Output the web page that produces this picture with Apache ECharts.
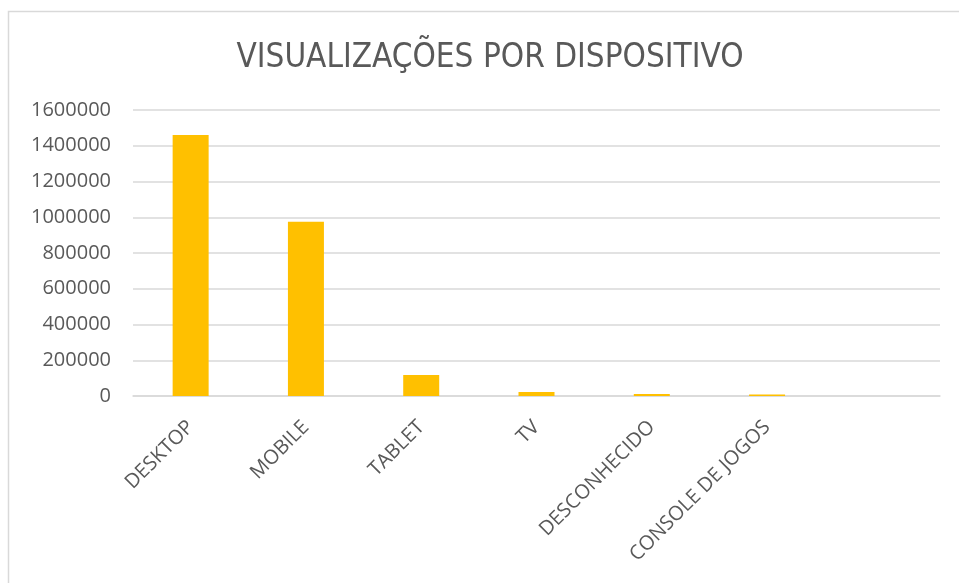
<!DOCTYPE html>
<html>
<head>
<meta charset="utf-8">
<script src="https://cdn.jsdelivr.net/npm/echarts@6/dist/echarts.min.js"></script>
<style>
  html, body { margin: 0; padding: 0; background: #fff; }
  #chart { width: 959px; height: 583px; }
</style>
</head>
<body>
<div id="chart"></div>
<script>
// categorias (a última fica vazia, como no gráfico original)
const categories = ['DESKTOP', 'MOBILE', 'TABLET', 'TV', 'DESCONHECIDO', 'CONSOLE DE JOGOS', '']
// visualizações por dispositivo
const views = [1460000, 975000, 117000, 23000, 11000, 8000, null]
const yTicks = [0, 200000, 400000, 600000, 800000, 1000000, 1200000, 1400000, 1600000]

const textColor = '#595959'
const font = '"Open Sans", "Liberation Sans", sans-serif'

const chart = echarts.init(document.getElementById('chart'))
const option = {
  backgroundColor: '#fff',
  animation: false,
  graphic: [{
    type: 'rect',
    shape: { x: 8.5, y: 11.5, width: 1000, height: 700 },
    style: { fill: 'none', stroke: '#d9d9d9', lineWidth: 1.5 },
    silent: true
  }],
  title: {
    text: 'VISUALIZAÇÕES POR DISPOSITIVO',
    left: 485,
    top: 37,
    textAlign: 'center',
    textStyle: {
      color: textColor,
      fontFamily: '"Liberation Sans Narrow", "DejaVu Sans Condensed", sans-serif',
      fontSize: 33,
      fontWeight: 'normal'
    }
  },
  grid: {
    left: 133,
    right: 19,
    top: 110,
    bottom: 187,
    containLabel: false
  },
  xAxis: {
    type: 'category',
    data: categories,
    axisLine: { lineStyle: { color: '#d9d9d9', width: 1.5 } },
    axisTick: { show: false },
    axisLabel: {
      rotate: 45,
      interval: 0,
      margin: 28,
      color: textColor,
      fontFamily: font,
      fontSize: 20
    }
  },
  yAxis: {
    type: 'value',
    min: yTicks[0],
    max: yTicks[yTicks.length - 1],
    interval: 200000,
    axisLine: { show: false },
    axisTick: { show: false },
    axisLabel: {
      margin: 22,
      color: textColor,
      fontFamily: font,
      fontSize: 20,
      formatter: v => String(v)
    },
    splitLine: { lineStyle: { color: '#d9d9d9', width: 1.5 } }
  },
  series: [{
    type: 'bar',
    data: views,
    barWidth: 36,
    itemStyle: { color: '#FFC000' }
  }]
}
chart.setOption(option)
</script>
</body>
</html>
